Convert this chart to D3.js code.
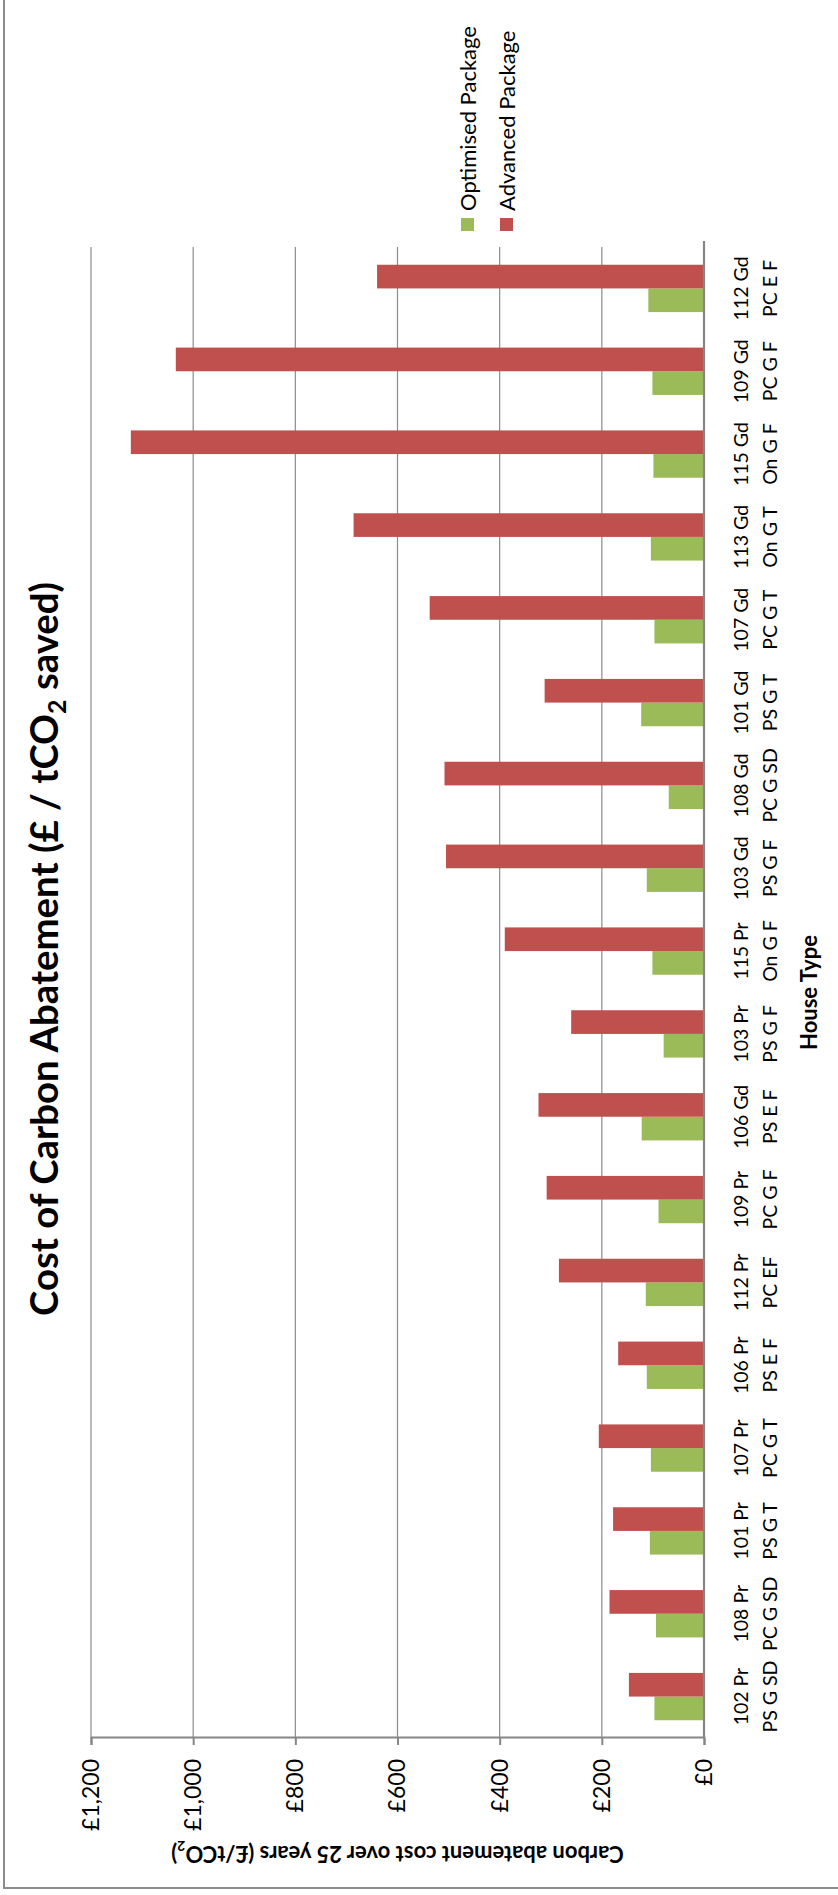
<!DOCTYPE html>
<html>
<head>
<meta charset="utf-8">
<script src="https://cdn.jsdelivr.net/npm/d3@7"></script>
<style>
  html, body { margin: 0; padding: 0; background: #fff; }
  svg { display: block; }
  text { font-family: Lato, "Open Sans", sans-serif; fill: #000; }
</style>
</head>
<body>
<svg id="chart" width="838" height="1895"></svg>
<script>
// House types, ordered along the category axis
const houseCodes = ["102 Pr", "108 Pr", "101 Pr", "107 Pr", "106 Pr", "112 Pr", "109 Pr", "106 Gd", "103 Pr",
                    "115 Pr", "103 Gd", "108 Gd", "101 Gd", "107 Gd", "113 Gd", "115 Gd", "109 Gd", "112 Gd"];
const houseSpecs = ["PS G SD", "PC G SD", "PS G T", "PC G T", "PS E F", "PC EF", "PC G F", "PS E F", "PS G F",
                    "On G F", "PS G F", "PC G SD", "PS G T", "PC G T", "On G T", "On G F", "PC G F", "PC E F"];

// Carbon abatement cost over 25 years (£/tCO2)
const optimisedCost = [97, 94, 106, 104, 112, 114, 89, 122, 79, 101, 112, 69, 123, 97, 104, 99, 101, 109];
const advancedCost  = [147, 185, 178, 206, 168, 284, 308, 324, 260, 390, 505, 508, 312, 537, 686, 1122, 1034, 640];

const seriesNames  = ["Optimised Package", "Advanced Package"];
const seriesColors = ["#9BBB59", "#C0504D"];
const costTicks    = [0, 200, 400, 600, 800, 1000, 1200];

// The chart is laid out as a landscape column chart and then turned a quarter turn anticlockwise.
const W = 1895, H = 838;
const svg = d3.select("#chart");
const g = svg.append("g").attr("transform", `translate(0,${W}) rotate(-90)`);

// chart area frame
g.append("rect")
  .attr("x", 7).attr("y", 4).attr("width", W).attr("height", H)
  .attr("fill", "none").attr("stroke", "#8c8c8c").attr("stroke-width", 2);

const plot = { left: 157, right: 1648, top: 91, bottom: 704 };

const x0 = d3.scaleBand().domain(d3.range(houseCodes.length)).range([plot.left, plot.right]);
const x1 = d3.scaleBand().domain([0, 1]).range([0, x0.bandwidth()]).paddingInner(0).paddingOuter(0.75);
const y  = d3.scaleLinear().domain([0, 1200]).range([plot.bottom, plot.top]);

// horizontal gridlines
g.append("g").selectAll("line").data(costTicks.filter(d => d > 0)).join("line")
  .attr("x1", plot.left).attr("x2", plot.right)
  .attr("y1", d => y(d)).attr("y2", d => y(d))
  .attr("stroke", "#8c8c8c").attr("stroke-width", 1.2);

// bars
const groups = g.append("g").selectAll("g").data(d3.range(houseCodes.length)).join("g")
  .attr("transform", i => `translate(${x0(i)},0)`);
groups.selectAll("rect").data(i => [optimisedCost[i], advancedCost[i]]).join("rect")
  .attr("x", (d, k) => x1(k))
  .attr("width", x1.bandwidth())
  .attr("y", d => y(d))
  .attr("height", d => plot.bottom - y(d))
  .attr("fill", (d, k) => seriesColors[k]);

// value axis
const valueAxis = g.append("g")
  .attr("transform", `translate(${plot.left},0)`)
  .call(d3.axisLeft(y).tickValues(costTicks)
    .tickFormat(d => "£" + d3.format(",")(d))
    .tickSize(7).tickPadding(14));
valueAxis.attr("font-family", null).attr("font-size", null);
valueAxis.selectAll("path, line").attr("stroke", "#868686").attr("stroke-width", 2);
valueAxis.selectAll("text").style("font-size", "23px");

// category axis
const catAxis = g.append("g")
  .attr("transform", `translate(0,${plot.bottom})`)
  .call(d3.axisBottom(x0).tickSize(0).tickSizeOuter(0).tickFormat(""));
catAxis.attr("font-family", null).attr("font-size", null);
catAxis.select(".domain").attr("stroke", "#868686").attr("stroke-width", 2.2)
  .attr("d", `M${plot.left},0H${plot.right + 6}`);
catAxis.selectAll(".tick text").each(function (i) {
  const t = d3.select(this).attr("y", null).attr("dy", null).style("font-size", "19.5px");
  t.append("tspan").attr("x", 0).attr("y", 44).text(houseCodes[i]);
  t.append("tspan").attr("x", 0).attr("y", 73).text(houseSpecs[i]);
});

// axis titles
g.append("text")
  .attr("x", (plot.left + plot.right) / 2).attr("y", 817)
  .attr("text-anchor", "middle").style("font-weight", "bold").style("font-size", "22px")
  .text("House Type");

const yTitle = g.append("text")
  .attr("transform", `translate(49,${(plot.top + plot.bottom) / 2}) rotate(-90)`)
  .attr("text-anchor", "middle").style("font-weight", "bold").style("font-size", "22px");
yTitle.append("tspan").text("Carbon abatement cost over 25 years (£/tCO");
yTitle.append("tspan").attr("dy", 5).style("font-size", "14px").text("2");
yTitle.append("tspan").attr("dy", -5).text(")");

// chart title
const title = g.append("text")
  .attr("x", 946).attr("y", 58)
  .attr("text-anchor", "middle").style("font-weight", "bold").style("font-size", "38.3px");
title.append("tspan").text("Cost of Carbon Abatement (£ / tCO");
title.append("tspan").attr("dy", 8).style("font-size", "25px").text("2");
title.append("tspan").attr("dy", -8).text(" saved)");

// legend
const legend = g.append("g").selectAll("g").data(seriesNames).join("g")
  .attr("transform", (d, k) => `translate(1664,${467.5 + 39 * k})`);
legend.append("rect")
  .attr("x", 0).attr("y", -6.5).attr("width", 13).attr("height", 13)
  .attr("fill", (d, k) => seriesColors[k]);
legend.append("text")
  .attr("x", 20).attr("y", 8.5).style("font-size", "22px")
  .text(d => d);
</script>
</body>
</html>
